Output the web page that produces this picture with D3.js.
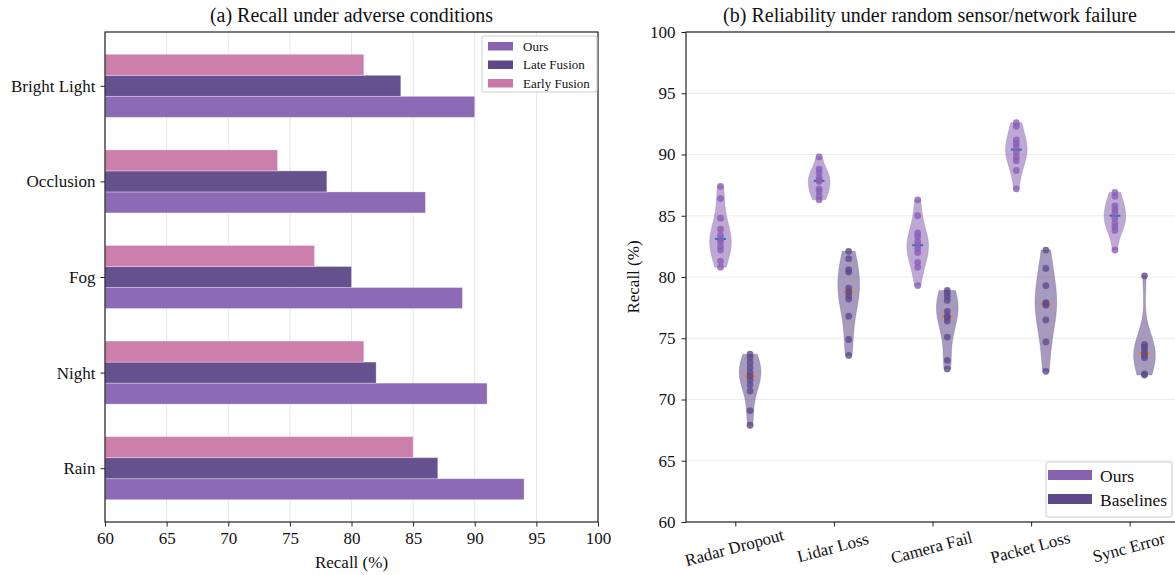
<!DOCTYPE html>
<html>
<head>
<meta charset="utf-8">
<script src="https://cdn.jsdelivr.net/npm/d3@7"></script>
<style>
  body { margin: 0; background: #fff; }
  text { font-family: "Liberation Serif", "Times New Roman", serif; fill: #111; }
</style>
</head>
<body>
<div id="chart"></div>
<script>
// ---- data: panel (a)
var conditions = ["Rain", "Night", "Fog", "Occlusion", "Bright Light"];
var oursRecall = [94, 91, 89, 86, 90];
var lateRecall = [87, 82, 80, 78, 84];
var earlyRecall = [85, 81, 77, 74, 81];
var xTicksA = [60, 65, 70, 75, 80, 85, 90, 95, 100];

// ---- data: panel (b)
var failures = ["Radar Dropout", "Lidar Loss", "Camera Fail", "Packet Loss", "Sync Error"];
var oursRuns = [
  [87.4, 86.4, 84.8, 83.9, 83.4, 83.1, 82.9, 82.5, 82.2, 81.3, 80.8],
  [89.8, 88.8, 88.5, 88.1, 87.9, 87.8, 87.2, 87.0, 86.6, 86.3],
  [86.3, 85.0, 83.6, 83.3, 82.9, 82.6, 82.3, 82.0, 81.2, 80.8, 79.3],
  [92.6, 92.3, 91.2, 90.9, 90.6, 90.2, 89.8, 89.5, 88.7, 87.2],
  [86.9, 86.6, 85.8, 85.5, 85.2, 84.8, 84.4, 84.1, 83.8, 82.2]
];
var baseRuns = [
  [73.7, 73.4, 73.0, 72.6, 72.2, 71.9, 71.6, 71.2, 70.7, 69.1, 67.9],
  [82.1, 81.5, 80.6, 80.4, 79.1, 78.8, 78.5, 78.2, 76.8, 74.9, 73.6],
  [78.9, 78.7, 78.4, 78.1, 77.2, 76.8, 76.7, 76.4, 75.1, 73.2, 72.5],
  [82.2, 80.7, 79.3, 77.9, 77.8, 77.7, 76.5, 74.7, 72.3],
  [80.1, 74.5, 74.3, 74.1, 73.8, 73.6, 73.4, 72.1, 72.0]
];
var yTicksB = [60, 65, 70, 75, 80, 85, 90, 95, 100];

var cOurs = "#8762b1", cLate = "#5d4888", cEarly = "#c978a7";
var fs = "17px";

var svg = d3.select("#chart").append("svg")
  .attr("width", 1175).attr("height", 575);

// ================= panel (a)
var a = {left: 105, right: 598, top: 32, bottom: 522};
var barW = 0.22;
var xA = d3.scaleLinear().domain([60, 100]).range([a.left, a.right]);
var yA = d3.scaleLinear().domain([-0.563, 4.563]).range([a.bottom, a.top]);

var gA = svg.append("g");
gA.selectAll("line.grid").data(xTicksA).enter().append("line")
  .attr("x1", function(d) { return xA(d); }).attr("x2", function(d) { return xA(d); })
  .attr("y1", a.top).attr("y2", a.bottom)
  .attr("stroke", "#e6e6e6").attr("stroke-width", 1);

var series = [
  {name: "Ours", vals: oursRecall, off: -barW, color: cOurs},
  {name: "Late Fusion", vals: lateRecall, off: 0, color: cLate},
  {name: "Early Fusion", vals: earlyRecall, off: barW, color: cEarly}
];
series.forEach(function(s) {
  gA.selectAll(null).data(s.vals).enter().append("rect")
    .attr("x", xA(60))
    .attr("y", function(d, i) { return yA(i + s.off + barW / 2); })
    .attr("width", function(d) { return xA(d) - xA(60); })
    .attr("height", yA(0) - yA(barW))
    .attr("fill", s.color).attr("fill-opacity", 0.95)
    .attr("stroke", "#fff").attr("stroke-opacity", 0.4).attr("stroke-width", 0.8);
});

gA.append("rect").attr("x", a.left).attr("y", a.top)
  .attr("width", a.right - a.left).attr("height", a.bottom - a.top)
  .attr("fill", "none").attr("stroke", "#222").attr("stroke-width", 1.2);

var axA = gA.append("g").attr("transform", "translate(0," + a.bottom + ")")
  .call(d3.axisBottom(xA).tickValues(xTicksA).tickSize(4.5).tickPadding(5));
axA.select(".domain").remove();
axA.selectAll("text").style("font-size", fs).attr("fill", "#111");
axA.selectAll("line").attr("stroke", "#222");

var ayA = gA.append("g").attr("transform", "translate(" + a.left + ",0)")
  .call(d3.axisLeft(yA).tickValues(d3.range(conditions.length))
    .tickFormat(function(i) { return conditions[i]; }).tickSize(4.5).tickPadding(5));
ayA.select(".domain").remove();
ayA.selectAll("text").style("font-size", fs).attr("fill", "#111");
ayA.selectAll("line").attr("stroke", "#222");

gA.append("text").attr("x", (a.left + a.right) / 2).attr("y", 568)
  .attr("text-anchor", "middle").style("font-size", fs).text("Recall (%)");
gA.append("text").attr("x", (a.left + a.right) / 2).attr("y", 22)
  .attr("text-anchor", "middle").style("font-size", "20px")
  .text("(a) Recall under adverse conditions");

// legend (a)
var lgA = gA.append("g").attr("transform", "translate(482,36)");
lgA.append("rect").attr("width", 115).attr("height", 56).attr("rx", 2)
  .attr("fill", "#fff").attr("fill-opacity", 0.85).attr("stroke", "#ccc");
series.forEach(function(s, i) {
  lgA.append("rect").attr("x", 6).attr("y", 6 + i * 18.5).attr("width", 25).attr("height", 8.5)
    .attr("fill", s.color);
  lgA.append("text").attr("x", 41).attr("y", 14.5 + i * 18.5)
    .style("font-size", "13px").text(s.name);
});

// ================= panel (b)
var b = {left: 686, right: 1179, top: 32, bottom: 522};
var xB = d3.scaleLinear().domain([-0.5, 4.5]).range([b.left, b.right]);
var yB = d3.scaleLinear().domain([60, 100]).range([b.bottom, b.top]);
var vW = 0.22, vOff = 0.15;

var gB = svg.append("g");
gB.selectAll("line.grid").data(yTicksB).enter().append("line")
  .attr("x1", b.left).attr("x2", b.right)
  .attr("y1", function(d) { return yB(d); }).attr("y2", function(d) { return yB(d); })
  .attr("stroke", "#ebebeb").attr("stroke-width", 1);

function kdeShape(vals) {
  var n = vals.length;
  var bw = d3.deviation(vals) * Math.pow(n, -1 / 5);
  var lo = d3.min(vals), hi = d3.max(vals);
  var pts = d3.range(100).map(function(k) {
    var t = lo + (hi - lo) * k / 99;
    var dens = d3.sum(vals, function(v) {
      var z = (t - v) / bw;
      return Math.exp(-0.5 * z * z);
    });
    return [t, dens];
  });
  var m = d3.max(pts, function(p) { return p[1]; });
  return pts.map(function(p) { return [p[0], p[1] / m]; });
}

var halfPx = (xB(vW) - xB(0)) / 2;
function drawViolin(vals, pos, fill, fillOp, dotColor, medColor) {
  var shape = kdeShape(vals);
  var cx = xB(pos);
  var area = d3.area()
    .y(function(p) { return yB(p[0]); })
    .x0(function(p) { return cx - p[1] * halfPx; })
    .x1(function(p) { return cx + p[1] * halfPx; });
  gB.append("path").datum(shape).attr("d", area)
    .attr("fill", fill).attr("fill-opacity", fillOp)
    .attr("stroke", fill).attr("stroke-opacity", 0.25).attr("stroke-width", 1);
  var med = d3.median(vals);
  gB.append("line").attr("x1", cx - halfPx / 2).attr("x2", cx + halfPx / 2)
    .attr("y1", yB(med)).attr("y2", yB(med))
    .attr("stroke", medColor).attr("stroke-width", 2);
  gB.selectAll(null).data(vals).enter().append("circle")
    .attr("cx", cx).attr("cy", function(v) { return yB(v); }).attr("r", 3.4)
    .attr("fill", dotColor).attr("fill-opacity", 0.8);
}

failures.forEach(function(f, i) {
  drawViolin(oursRuns[i], i - vOff, cOurs, 0.55, "#8a5fb8", "#1f77b4");
  drawViolin(baseRuns[i], i + vOff, cLate, 0.55, "#5f4a8c", "#ff7f0e");
});

gB.append("rect").attr("x", b.left).attr("y", b.top)
  .attr("width", b.right - b.left).attr("height", b.bottom - b.top)
  .attr("fill", "none").attr("stroke", "#222").attr("stroke-width", 1.2);

var ayB = gB.append("g").attr("transform", "translate(" + b.left + ",0)")
  .call(d3.axisLeft(yB).tickValues(yTicksB).tickSize(4.5).tickPadding(6));
ayB.select(".domain").remove();
ayB.selectAll("text").style("font-size", fs).attr("fill", "#111");
ayB.selectAll("line").attr("stroke", "#222");

var axB = gB.append("g").attr("transform", "translate(0," + b.bottom + ")")
  .call(d3.axisBottom(xB).tickValues(d3.range(failures.length))
    .tickFormat(function(i) { return failures[i]; }).tickSize(4.5).tickPadding(6));
axB.select(".domain").remove();
axB.selectAll("line").attr("stroke", "#222");
axB.selectAll("text").style("font-size", fs).attr("fill", "#111")
  .attr("text-anchor", "middle").attr("dy", "0")
  .attr("transform", "translate(0,31) rotate(-15)")
  .attr("y", 0);

gB.append("text").attr("transform", "translate(639," + ((b.top + b.bottom) / 2) + ") rotate(-90)")
  .attr("text-anchor", "middle").style("font-size", fs).text("Recall (%)");
gB.append("text").attr("x", 930).attr("y", 22)
  .attr("text-anchor", "middle").style("font-size", "20px")
  .text("(b) Reliability under random sensor/network failure");

// legend (b)
var lgB = gB.append("g").attr("transform", "translate(1046,462)");
lgB.append("rect").attr("width", 126).attr("height", 55).attr("rx", 2)
  .attr("fill", "#fff").attr("fill-opacity", 0.9).attr("stroke", "#ccc");
[{name: "Ours", color: cOurs}, {name: "Baselines", color: cLate}].forEach(function(s, i) {
  lgB.append("rect").attr("x", 2).attr("y", 8 + i * 24).attr("width", 44).attr("height", 10)
    .attr("fill", s.color);
  lgB.append("text").attr("x", 54).attr("y", 19.5 + i * 24)
    .style("font-size", "17.5px").text(s.name);
});
</script>
</body>
</html>
